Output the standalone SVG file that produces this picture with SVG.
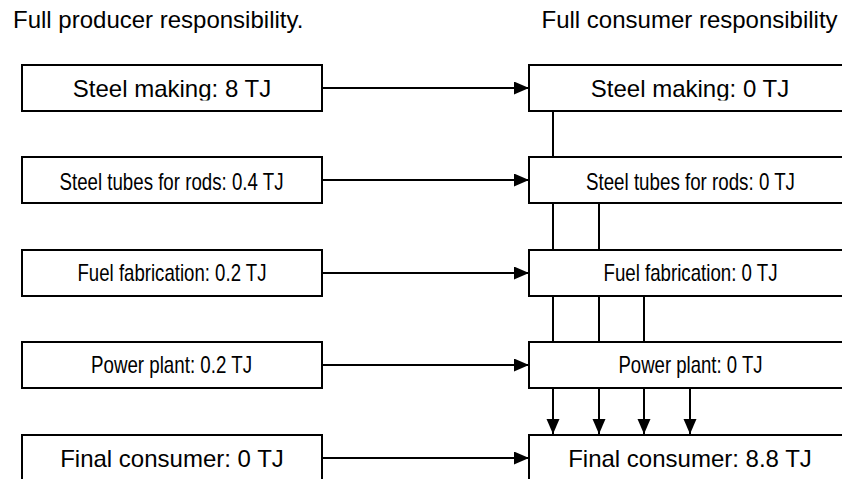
<svg xmlns="http://www.w3.org/2000/svg" width="842" height="479" viewBox="0 0 842 479">
  <style>
    .box { fill: #ffffff; stroke: #000000; stroke-width: 2; }
    .conn { fill: none; stroke: #000000; stroke-width: 2; }
    .big { font-family: "Liberation Sans", Arial, sans-serif; font-size: 24px; fill: #000000; }
    .narrow { font-family: "Liberation Sans Narrow", "Liberation Sans", Arial, sans-serif; font-size: 24px; fill: #000000; }
  </style>
  <defs>
    <marker id="ah" markerUnits="userSpaceOnUse" markerWidth="16" markerHeight="14" refX="15" refY="6.5" orient="auto">
      <path d="M0,0 L15,6.5 L0,13 z" fill="#000000"/>
    </marker>
    <clipPath id="clipL1"><rect x="22" y="65" width="300" height="35.5"/></clipPath>
    <clipPath id="clipR1"><rect x="529" y="65" width="320" height="35.5"/></clipPath>
  </defs>
  <rect width="842" height="479" fill="#ffffff"/>

  <text class="big" x="13" y="28">Full producer responsibility.</text>
  <text class="big" x="541.5" y="28">Full consumer responsibility</text>

  <g id="connectors">
    <line class="conn" x1="322" y1="88" x2="529" y2="88" marker-end="url(#ah)"/>
    <line class="conn" x1="322" y1="180" x2="529" y2="180" marker-end="url(#ah)"/>
    <line class="conn" x1="322" y1="273" x2="529" y2="273" marker-end="url(#ah)"/>
    <line class="conn" x1="322" y1="365" x2="529" y2="365" marker-end="url(#ah)"/>
    <line class="conn" x1="322" y1="458" x2="529" y2="458" marker-end="url(#ah)"/>
    <line class="conn" x1="553" y1="111" x2="553" y2="434" marker-end="url(#ah)"/>
    <line class="conn" x1="599" y1="203" x2="599" y2="434" marker-end="url(#ah)"/>
    <line class="conn" x1="644" y1="296" x2="644" y2="434" marker-end="url(#ah)"/>
    <line class="conn" x1="690" y1="388" x2="690" y2="434" marker-end="url(#ah)"/>
  </g>

  <g id="prod-steel">
    <rect class="box" x="22" y="65" width="300" height="46"/>
    <text class="big" x="172" y="97" text-anchor="middle" clip-path="url(#clipL1)">Steel making: 8 TJ</text>
  </g>
  <g id="prod-tubes">
    <rect class="box" x="22" y="157" width="300" height="46"/>
    <text class="narrow" x="59.5" y="190" textLength="224" lengthAdjust="spacingAndGlyphs">Steel tubes for rods: 0.4 TJ</text>
  </g>
  <g id="prod-fuel">
    <rect class="box" x="22" y="250" width="300" height="46"/>
    <text class="narrow" x="77.5" y="281" textLength="189" lengthAdjust="spacingAndGlyphs">Fuel fabrication: 0.2 TJ</text>
  </g>
  <g id="prod-power">
    <rect class="box" x="22" y="342" width="300" height="46"/>
    <text class="narrow" x="91" y="373" textLength="161" lengthAdjust="spacingAndGlyphs">Power plant: 0.2 TJ</text>
  </g>
  <g id="prod-final">
    <rect class="box" x="22" y="435" width="300" height="50"/>
    <text class="big" x="172" y="467" text-anchor="middle">Final consumer: 0 TJ</text>
  </g>

  <g id="cons-steel">
    <rect class="box" x="529" y="65" width="322" height="46"/>
    <text class="big" x="690" y="97" text-anchor="middle" clip-path="url(#clipR1)">Steel making: 0 TJ</text>
  </g>
  <g id="cons-tubes">
    <rect class="box" x="529" y="157" width="322" height="46"/>
    <text class="narrow" x="586" y="190" textLength="209" lengthAdjust="spacingAndGlyphs">Steel tubes for rods: 0 TJ</text>
  </g>
  <g id="cons-fuel">
    <rect class="box" x="529" y="250" width="322" height="46"/>
    <text class="narrow" x="603.5" y="281" textLength="174" lengthAdjust="spacingAndGlyphs">Fuel fabrication: 0 TJ</text>
  </g>
  <g id="cons-power">
    <rect class="box" x="529" y="342" width="322" height="46"/>
    <text class="narrow" x="618.5" y="373" textLength="144" lengthAdjust="spacingAndGlyphs">Power plant: 0 TJ</text>
  </g>
  <g id="cons-final">
    <rect class="box" x="529" y="435" width="322" height="50"/>
    <text class="big" x="690" y="467" text-anchor="middle">Final consumer: 8.8 TJ</text>
  </g>
</svg>
